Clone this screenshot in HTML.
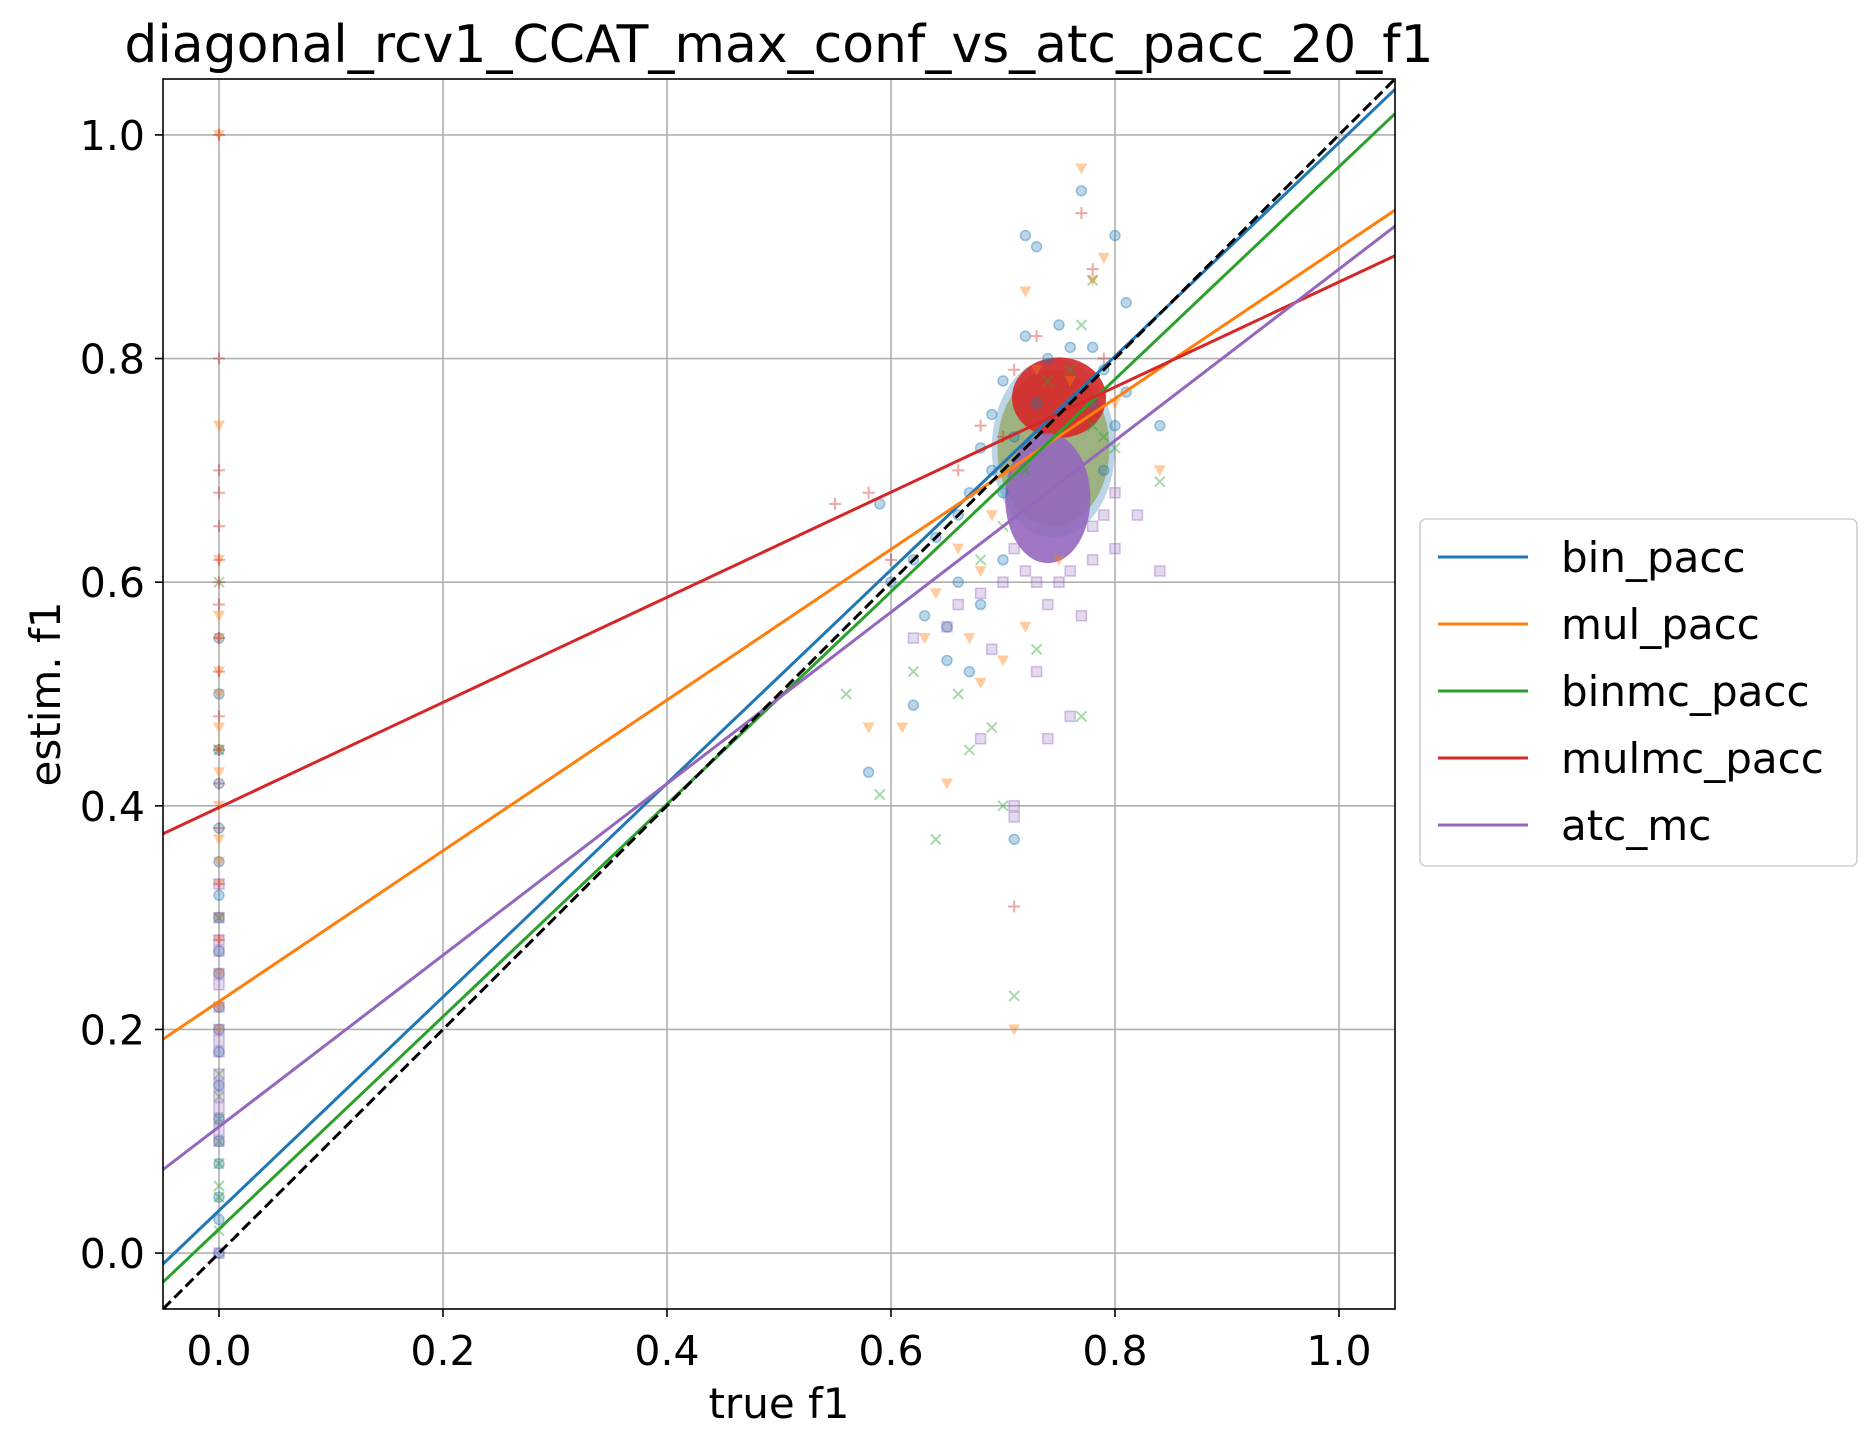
<!DOCTYPE html>
<html><head><meta charset="utf-8"><style>
body{margin:0;background:#fff;}
svg{display:block;font-family:"DejaVu Sans","Liberation Sans",sans-serif;}
</style></head><body>
<svg id="chart" width="1876" height="1446" xmlns="http://www.w3.org/2000/svg"></svg>
<script>
const seriesNames=["bin_pacc","mul_pacc","binmc_pacc","mulmc_pacc","atc_mc"];
const seriesColors=["#1f77b4","#ff7f0e","#2ca02c","#d62728","#9467bd"];
const fitSlopes=[0.955,0.674,0.95,0.47,0.767];
const fitIntercepts=[0.038,0.225,0.0215,0.3985,0.113];
const xTicks=[0.0,0.2,0.4,0.6,0.8,1.0];
const yTicks=[0.0,0.2,0.4,0.6,0.8,1.0];
const bluePts=[[0.58,0.43],[0.71,0.37],[0.72,0.91],[0.73,0.90],[0.77,0.95],[0.80,0.91],[0.81,0.85],[0.84,0.74],[0.59,0.67],[0.62,0.49],[0.65,0.53],[0.68,0.58],[0.70,0.62],[0.66,0.60],[0.63,0.57],[0.79,0.70],[0.74,0.80],[0.69,0.75],[0.78,0.81],[0.68,0.72],[0.80,0.74],[0.66,0.66],[0.64,0.64],[0.70,0.78],[0.72,0.82],[0.75,0.83],[0.79,0.79],[0.71,0.73],[0.69,0.70],[0.67,0.68],[0.62,0.62],[0.60,0.60],[0.65,0.56],[0.67,0.52],[0.76,0.81],[0.78,0.76],[0.81,0.77],[0.73,0.76],[0.70,0.68]];
const orangePts=[[0.77,0.97],[0.72,0.86],[0.79,0.89],[0.58,0.47],[0.61,0.47],[0.65,0.42],[0.71,0.20],[0.84,0.70],[0.78,0.87],[0.68,0.51],[0.72,0.56],[0.63,0.55],[0.75,0.62],[0.67,0.55],[0.70,0.53],[0.66,0.63],[0.69,0.66],[0.71,0.70],[0.73,0.79],[0.76,0.78],[0.80,0.76],[0.64,0.59],[0.68,0.61]];
const greenPts=[[0.64,0.37],[0.70,0.40],[0.71,0.23],[0.59,0.41],[0.56,0.50],[0.77,0.48],[0.84,0.69],[0.67,0.45],[0.69,0.47],[0.78,0.87],[0.77,0.83],[0.62,0.52],[0.73,0.54],[0.66,0.50],[0.80,0.72],[0.70,0.65],[0.72,0.70],[0.78,0.74],[0.76,0.79],[0.68,0.62],[0.74,0.78],[0.79,0.73]];
const redPts=[[0.77,0.93],[0.71,0.31],[0.58,0.68],[0.55,0.67],[0.78,0.88],[0.60,0.62],[0.68,0.74],[0.66,0.70],[0.71,0.79],[0.73,0.82],[0.79,0.80],[0.70,0.73]];
const purplePts=[[0.71,0.40],[0.71,0.39],[0.74,0.46],[0.76,0.48],[0.84,0.61],[0.80,0.63],[0.82,0.66],[0.68,0.46],[0.66,0.58],[0.62,0.55],[0.73,0.52],[0.77,0.57],[0.70,0.60],[0.75,0.60],[0.78,0.62],[0.69,0.54],[0.79,0.66],[0.72,0.61],[0.76,0.61],[0.71,0.63],[0.78,0.65],[0.73,0.60],[0.68,0.59],[0.80,0.68],[0.65,0.56],[0.74,0.58]];
const blueCol=[0.55,0.5,0.42,0.3,0.2,0.15,0.1,0.05,0.0,0.25,0.35,0.08,0.03,0.12,0.18,0.22,0.27,0.32,0.38,0.45];
const orangeCol=[1.0,0.74,0.62,0.57,0.55,0.5,0.47,0.45,0.4,0.37,0.35,0.3,0.28,0.25,0.22,0.2,0.43,0.52,0.33];
const greenCol=[0.6,0.45,0.3,0.1,0.05,0.02,0.08,0.12,0.16,0.14,0.06];
const redCol=[1.0,0.8,0.7,0.68,0.65,0.62,0.6,0.55,0.52,0.45,0.42,0.38,0.33,0.28,0.48,0.58];
const purpleCol=[0.33,0.3,0.27,0.24,0.22,0.2,0.18,0.15,0.13,0.12,0.1,0.0,0.28,0.25,0.19,0.16,0.11,0.14];
const cloudCx=[0.745,0.745,0.745,0.75,0.74];
const cloudCy=[0.72,0.72,0.72,0.765,0.675];
const cloudRx=[0.055,0.05,0.05,0.042,0.038];
const cloudRy=[0.08,0.07,0.07,0.036,0.058];

const NS="http://www.w3.org/2000/svg";
const svg=document.getElementById('chart');
const L=163,R=1395,T=79,B=1309,x0=-0.05,x1=1.05,y0=-0.05,y1=1.05;
const X=v=>L+(v-x0)/(x1-x0)*(R-L);
const Y=v=>B-(v-y0)/(y1-y0)*(B-T);
function mk(tag,at,parent){const e=document.createElementNS(NS,tag);for(const k in at)e.setAttribute(k,at[k]);(parent||svg).appendChild(e);return e;}
const clip=mk('clipPath',{id:'pc'});mk('rect',{x:L,y:T,width:R-L,height:B-T},clip);
xTicks.forEach(t=>{const g=mk('line',{x1:X(t),x2:X(t),y1:T,y2:B,stroke:'#b0b0b0','stroke-width':1.6});


mk('line',{x1:X(t),x2:X(t),y1:B,y2:B+8,stroke:'#000','stroke-width':1.6});
const tx=mk('text',{x:X(t),y:B+56,'font-size':41,'text-anchor':'middle'});tx.textContent=t.toFixed(1);

});
yTicks.forEach(t=>{const g=mk('line',{x1:L,x2:R,y1:Y(t),y2:Y(t),stroke:'#b0b0b0','stroke-width':1.6});


mk('line',{x1:L-8,x2:L,y1:Y(t),y2:Y(t),stroke:'#000','stroke-width':1.6});
const tx=mk('text',{x:L-18,y:Y(t)+15,'font-size':41,'text-anchor':'end'});tx.textContent=t.toFixed(1);

});
const plot=mk('g',{'clip-path':'url(#pc)'});


cloudCx.forEach((c,i)=>{const e=mk('ellipse',{cx:X(c),cy:Y(cloudCy[i]),rx:cloudRx[i]*1120,ry:cloudRy[i]*1118,fill:seriesColors[i],opacity:i>=3?0.9:0.3},plot);

});
function marker(i,x,y){const c=seriesColors[i],cx=X(x),cy=Y(y);let e;
if(i==0)e=mk('circle',{cx,cy,r:5,fill:c,'fill-opacity':0.3,stroke:c,'stroke-opacity':0.4,'stroke-width':1.5},plot);
else if(i==1)e=mk('polygon',{points:`${cx-6},${cy-5} ${cx+6},${cy-5} ${cx},${cy+6}`,fill:c,opacity:0.4},plot);
else if(i==2)e=mk('path',{d:`M${cx-5} ${cy-5}L${cx+5} ${cy+5}M${cx-5} ${cy+5}L${cx+5} ${cy-5}`,stroke:c,'stroke-width':2,opacity:0.4},plot);
else if(i==3)e=mk('path',{d:`M${cx-6} ${cy}L${cx+6} ${cy}M${cx} ${cy-6}L${cx} ${cy+6}`,stroke:c,'stroke-width':2,opacity:0.4},plot);
else e=mk('rect',{x:cx-5,y:cy-5,width:10,height:10,fill:c,'fill-opacity':0.25,stroke:c,'stroke-opacity':0.4,'stroke-width':1.5},plot);

}
[bluePts,orangePts,greenPts,redPts,purplePts].forEach((arr,i)=>arr.forEach(p=>marker(i,p[0],p[1])));
[blueCol,orangeCol,greenCol,redCol,purpleCol].forEach((arr,i)=>arr.forEach(v=>marker(i,0,v)));
fitSlopes.forEach((m,i)=>{const b=fitIntercepts[i];const l=mk('line',{x1:X(x0),y1:Y(b+m*x0),x2:X(x1),y2:Y(b+m*x1),stroke:seriesColors[i],'stroke-width':3},plot);

});
const d=mk('line',{x1:X(x0),y1:Y(y0),x2:X(x1),y2:Y(y1),stroke:'#000','stroke-width':3,'stroke-dasharray':'11,5'},plot);


const fr=mk('rect',{x:L,y:T,width:R-L,height:B-T,fill:'none',stroke:'#000','stroke-width':1.6});


</script>
<svg style="position:absolute;left:0;top:0" width="1876" height="1446" xmlns="http://www.w3.org/2000/svg" font-family="DejaVu Sans, Liberation Sans, sans-serif">
<text x="779" y="62" font-size="52" text-anchor="middle">diagonal_rcv1_CCAT_max_conf_vs_atc_pacc_20_f1</text>
<text x="779" y="1418" font-size="42" text-anchor="middle">true f1</text>
<text x="60" y="694" font-size="42" text-anchor="middle" transform="rotate(-90 60 694)">estim. f1</text>
<g font-size="42">
<rect x="1420" y="519" width="437" height="347" rx="6" fill="#fff" stroke="#d0d0d0" stroke-width="1.6"/>
<line x1="1438" x2="1528" y1="557" y2="557" stroke="#1f77b4" stroke-width="3"/><text x="1561" y="572">bin_pacc</text>
<line x1="1438" x2="1528" y1="624" y2="624" stroke="#ff7f0e" stroke-width="3"/><text x="1561" y="639">mul_pacc</text>
<line x1="1438" x2="1528" y1="691" y2="691" stroke="#2ca02c" stroke-width="3"/><text x="1561" y="706">binmc_pacc</text>
<line x1="1438" x2="1528" y1="758" y2="758" stroke="#d62728" stroke-width="3"/><text x="1561" y="773">mulmc_pacc</text>
<line x1="1438" x2="1528" y1="825" y2="825" stroke="#9467bd" stroke-width="3"/><text x="1561" y="840">atc_mc</text>
</g>
</svg>
</body></html>
